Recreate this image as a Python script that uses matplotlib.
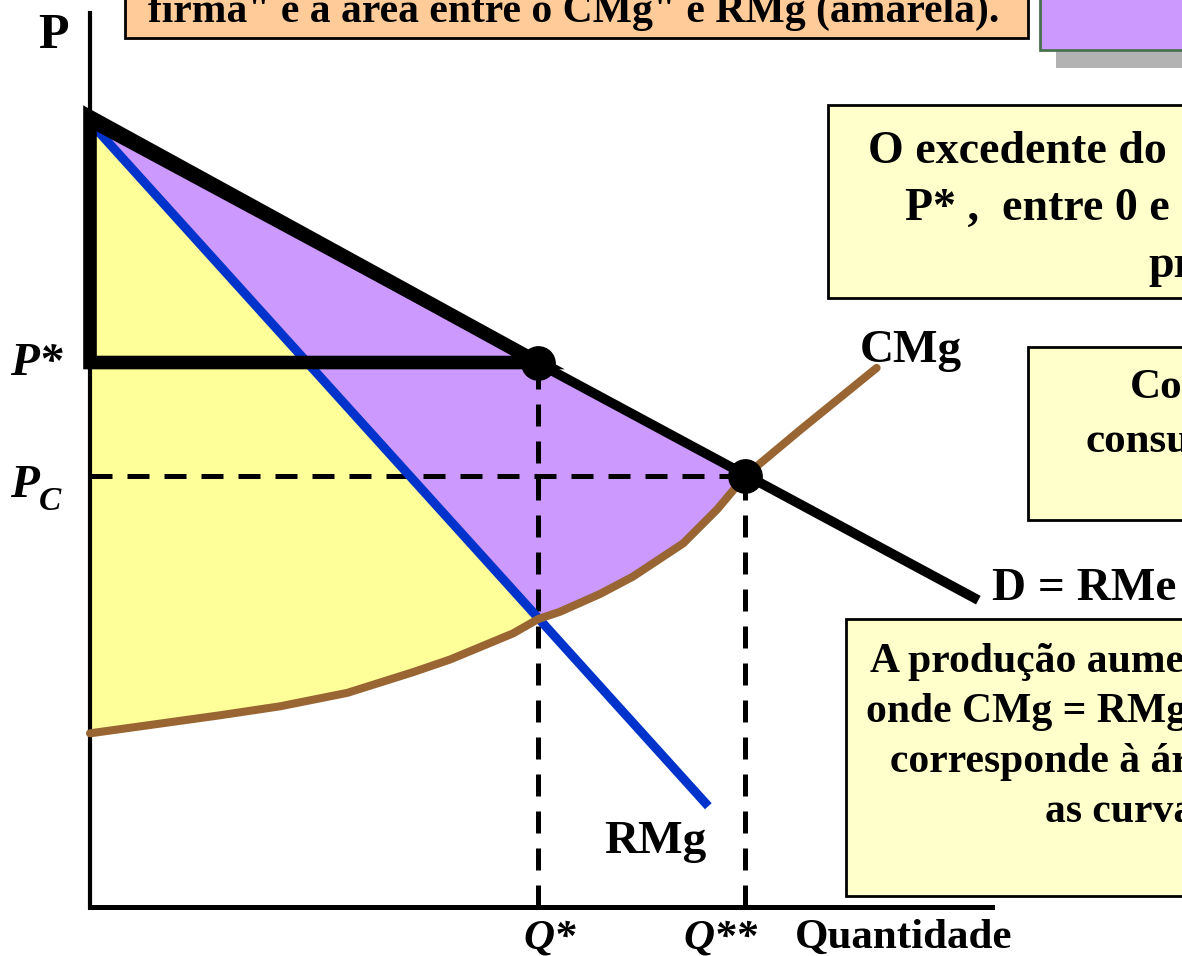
import numpy as np
import matplotlib
matplotlib.use("Agg")
from matplotlib import pyplot as plt
from matplotlib.patches import Rectangle, Polygon

# market values (arbitrary units)
q_star = 4.98
q_2star = 7.28
p_star = 6.05
p_c = 4.79

demand_q = [0.0, 9.87]
demand_p = [8.72, 3.41]

rmg_q = [0.0, 6.87]
rmg_p = [8.72, 1.12]

cmg_q = [0.0, 1.44, 2.11, 2.86, 3.59, 4.00, 4.70, 4.98, 5.22, 5.67, 6.03,
         6.59, 6.97, 7.28, 7.89, 8.74]
cmg_p = [1.93, 2.13, 2.23, 2.38, 2.61, 2.75, 3.04, 3.20, 3.28, 3.48, 3.67,
         4.04, 4.42, 4.79, 5.30, 5.99]

plt.rcParams['font.family'] = ['Liberation Serif', 'DejaVu Serif']
plt.rcParams['font.weight'] = 'bold'

fig = plt.figure(figsize=(11.82, 9.56), dpi=100)
ax = fig.add_axes([0, 0, 1, 1])
ax.set_xlim(-1.0, 12.133)
ax.set_ylim(-0.544, 10.078)
ax.axis('off')


def px(x, y):
    # slide pixel -> data units
    return (x - 90) / 90.0, (907 - y) / 90.0


cmg_q = np.array(cmg_q)
cmg_p = np.array(cmg_p)
rmg_at_qs = np.interp(q_star, rmg_q, rmg_p)
d_at_q2 = np.interp(q_2star, demand_q, demand_p)

# yellow: between RMg and CMg up to Q*
left = cmg_q <= q_star
yel = [(rmg_q[0], rmg_p[0]), (q_star, rmg_at_qs)]
yel += list(zip(cmg_q[left][::-1], cmg_p[left][::-1]))
ax.add_patch(Polygon(yel, closed=True, facecolor='#FFFF99', edgecolor='none', zorder=1))

# purple: between demand and max(RMg, CMg) up to Q**
mid = (cmg_q >= q_star) & (cmg_q <= q_2star)
pur = [(demand_q[0], demand_p[0]), (q_2star, d_at_q2)]
pur += list(zip(cmg_q[mid][::-1], cmg_p[mid][::-1]))
pur += [(q_star, rmg_at_qs), (rmg_q[0], rmg_p[0])]
ax.add_patch(Polygon(pur, closed=True, facecolor='#CC99FF', edgecolor='none', zorder=1))

# dashed guides
dash = dict(color='black', lw=3.6, dashes=(4.4, 3.0), dash_capstyle='butt', zorder=2)
ax.plot([0, q_2star], [p_c, p_c], **dash)
ax.plot([q_star, q_star], [0, p_star], **dash)
ax.plot([q_2star, q_2star], [0, p_c], **dash)

# axes
ax.plot([0, 0], [0, px(0, 13)[1]], color='black', lw=3.0, zorder=3)
ax.plot([0, px(992, 0)[0]], [0, 0], color='black', lw=3.6, zorder=3)

# curves
ax.plot(rmg_q, rmg_p, color='#0033CC', lw=6.5, solid_capstyle='butt', zorder=4)
ax.plot(cmg_q, cmg_p, color='#996633', lw=5.8, solid_capstyle='round',
        solid_joinstyle='round', zorder=5)
ax.plot(demand_q, demand_p, color='black', lw=7.0, solid_capstyle='butt', zorder=6)

# thick outline of monopoly consumer surplus
ax.add_patch(Polygon([(0, demand_p[0] + 0.06), (q_star, p_star), (0, p_star)], closed=True,
                     facecolor='none', edgecolor='black', lw=9.8, joinstyle='miter', zorder=6))

ax.plot([q_star, q_2star], [p_star, p_c], 'o', color='black', ms=24, zorder=7)

# axis labels
big = 34
ax.text(*px(38, 48), 'P', fontsize=36, ha='left', va='baseline')
ax.text(*px(10, 375), 'P*', fontsize=big, style='italic', ha='left', va='baseline')
ax.text(*px(10, 497), 'P', fontsize=big, style='italic', ha='left', va='baseline')
ax.text(*px(39, 510), 'C', fontsize=24, style='italic', ha='left', va='baseline')
ax.text(*px(550, 948), 'Q*', fontsize=31, style='italic', ha='center', va='baseline')
ax.text(*px(720, 948), 'Q**', fontsize=31, style='italic', ha='center', va='baseline')
ax.text(*px(795, 948), 'Quantidade', fontsize=31, ha='left', va='baseline')
ax.text(*px(860, 362), 'CMg', fontsize=big, ha='left', va='baseline')
ax.text(*px(604, 853), 'RMg', fontsize=big, ha='left', va='baseline')
ax.text(*px(992, 600), 'D = RMe', fontsize=big, ha='left', va='baseline')


def box(x0, y0, x1, y1, fc, ec='black', lw=2.0, z=8):
    a = px(x0, y1)
    b = px(x1, y0)
    ax.add_patch(Rectangle(a, b[0] - a[0], b[1] - a[1], facecolor=fc, edgecolor=ec,
                           lw=lw, zorder=z, clip_on=False))


# text boxes (cut off by the slide edge)
box(125, -30, 1028, 38, '#FFCC99')
ax.text(*px(148, 22), 'firma" e a área entre o CMg" e RMg (amarela).', fontsize=30,
        ha='left', va='baseline', zorder=9)

box(1056, -30, 1250, 68, '#B2B2B2', ec='none', lw=0, z=7)
box(1040, -30, 1250, 50, '#CC99FF', ec='#4A7050', lw=2.0)

box(828, 105, 1250, 298, '#FFFFCC')
ax.text(*px(868, 163), 'O excedente do', fontsize=33, ha='left', va='baseline', zorder=9)
ax.text(*px(905, 220), 'P* ,  entre 0 e', fontsize=33, ha='left', va='baseline', zorder=9)
ax.text(*px(1148, 277), 'pr', fontsize=33, ha='left', va='baseline', zorder=9)

box(1028, 347, 1250, 520, '#FFFFCC')
ax.text(*px(1130, 398), 'Co', fontsize=31, ha='left', va='baseline', zorder=9)
ax.text(*px(1085, 452), 'consu', fontsize=31, ha='left', va='baseline', zorder=9)

box(846, 619, 1250, 896, '#FFFFCC')
ax.text(*px(870, 672), 'A produção aume', fontsize=30, ha='left', va='baseline', zorder=9)
ax.text(*px(866, 722), 'onde CMg = RMg', fontsize=30, ha='left', va='baseline', zorder=9)
ax.text(*px(890, 772), 'corresponde à ár', fontsize=30, ha='left', va='baseline', zorder=9)
ax.text(*px(1045, 822), 'as curva', fontsize=30, ha='left', va='baseline', zorder=9)

fig.savefig('out.png', dpi=100)
